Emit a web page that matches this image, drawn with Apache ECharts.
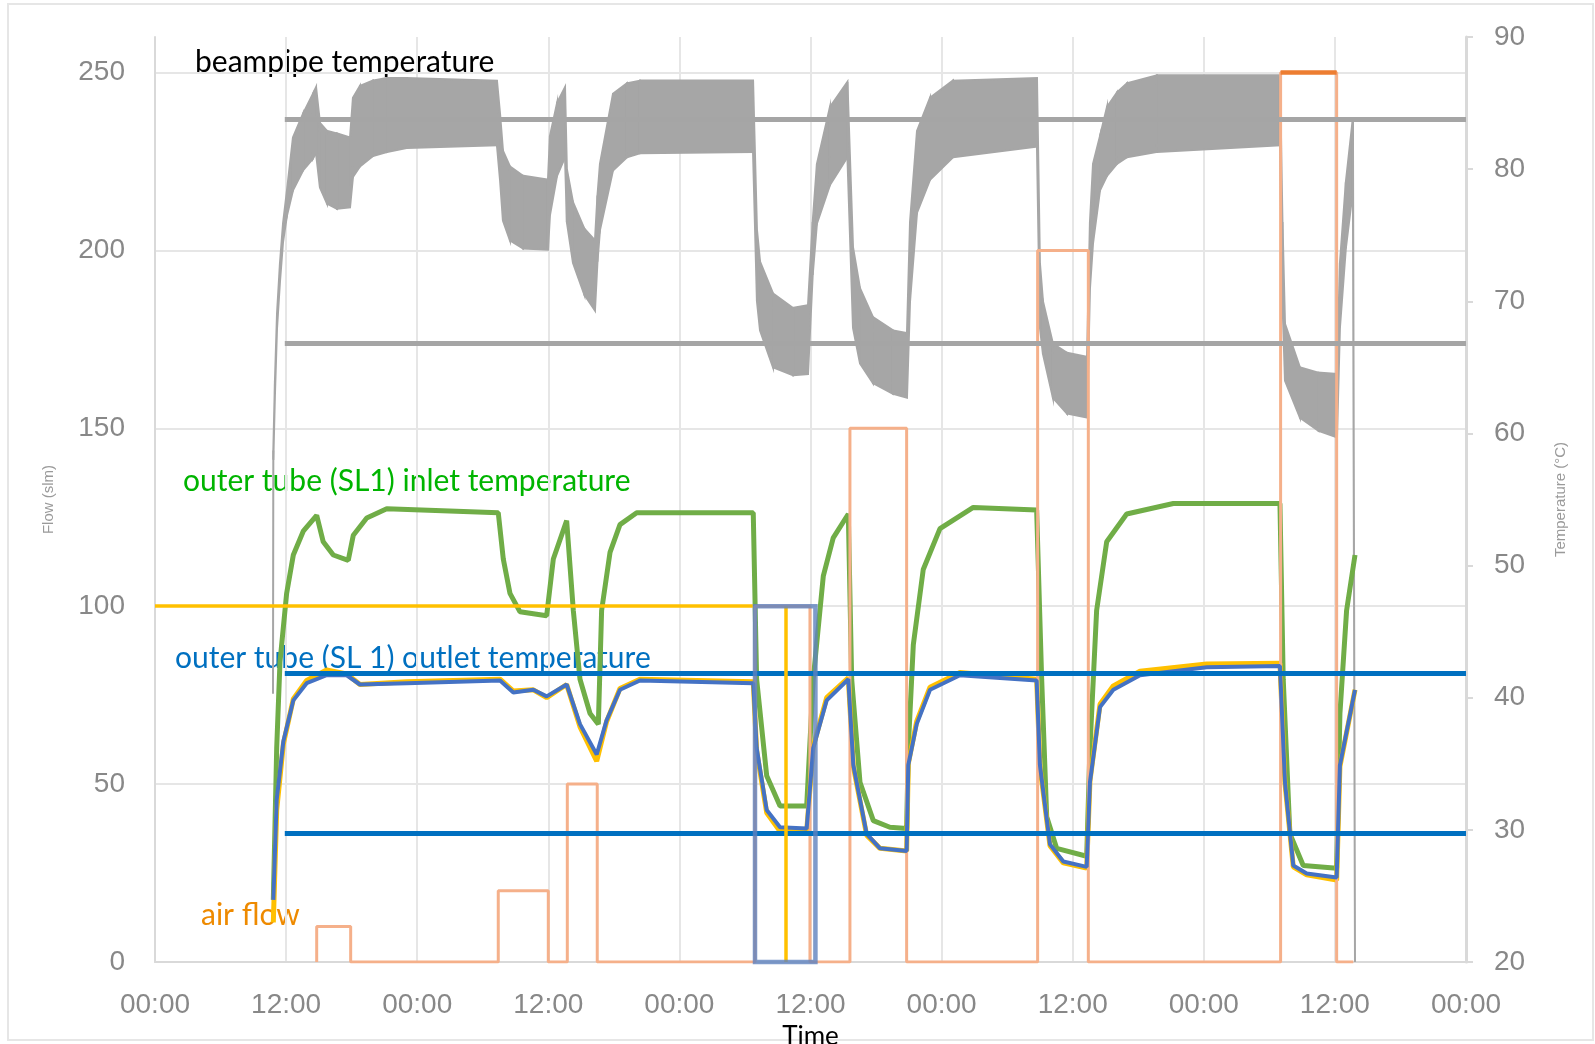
<!doctype html>
<html>

<head>
    <meta charset="utf-8">
    <title>beampipe / outer tube temperatures and air flow</title>
    <script type="text/javascript" src="https://cdn.jsdelivr.net/npm/echarts@6/dist/echarts.min.js"></script>
</head>

<body style="margin:0;padding:0;background:#fff;">
    <div id="tb"></div>
    <script>
        // time is in hours counted from the first 00:00 tick
        var timeTicks = ['00:00', '12:00'];

        // beampipe temperature (°C): upper and lower edge of the oscillating band
        var bpTime = [10.80, 10.83, 10.98, 11.17, 11.44, 11.72, 12.08, 12.63, 13.55, 14.46, 14.74, 15.10, 15.74, 16.66, 17.85,
            18.12, 18.76, 19.95, 21.24, 23.07, 31.30, 31.58, 31.85, 32.49, 33.68, 35.97, 36.15, 36.80, 37.53, 37.70, 38.26,
            39.30, 40.27, 40.50, 40.73, 41.92, 43.20, 44.39, 54.74, 55.10, 55.38, 56.57, 58.40, 59.77, 60.20, 60.59, 61.78,
            63.38, 63.89, 64.53, 65.72, 67.55, 68.83, 69.11, 69.75, 70.94, 73.04, 80.73, 81.00, 81.28, 82.19, 83.48, 85.31,
            85.58, 85.86, 86.50, 87.14, 88.05, 88.97, 91.71, 102.97, 103.20, 103.43, 104.80, 106.50, 108.19, 108.46, 109.00,
            109.65, 109.84];
        var bpUpper = [40.3, 58.7, 64.0, 69.1, 72.9, 75.9, 78.4, 82.4, 84.2, 85.7, 86.2, 83.5, 82.9, 82.7, 82.4,
            85.4, 86.3, 86.7, 86.9, 86.9, 86.7, 84.2, 81.4, 80.2, 79.5, 79.2, 82.5, 85.0, 86.2, 80.0, 77.5,
            75.5, 74.6, 78.0, 80.4, 85.7, 86.5, 86.7, 86.7, 75.4, 73.0, 70.6, 69.5, 69.7, 76.0, 80.4, 84.7,
            86.6, 74.1, 71.0, 68.8, 67.8, 67.6, 76.0, 82.9, 85.4, 86.7, 86.9, 72.9, 70.0, 66.8, 66.1, 65.8,
            76.0, 80.4, 82.5, 84.7, 85.8, 86.5, 87.1, 87.1, 76.0, 68.3, 65.0, 64.6, 64.5, 72.9, 79.0,
            83.9, 20.0];
        var bpLower = [40.3, 58.0, 63.0, 68.0, 71.5, 74.5, 76.5, 78.4, 79.9, 80.8, 81.2, 78.6, 77.4, 77.0, 77.1,
            79.4, 80.2, 81.0, 81.3, 81.6, 81.8, 79.2, 76.1, 74.6, 74.0, 73.9, 76.5, 79.5, 80.9, 76.0, 72.9,
            70.5, 69.3, 73.0, 75.4, 79.9, 80.9, 81.2, 81.3, 70.0, 67.8, 65.0, 64.4, 64.5, 72.0, 75.9, 78.8,
            80.9, 68.0, 65.3, 63.8, 63.0, 62.7, 70.0, 76.7, 79.2, 80.9, 81.7, 68.0, 66.0, 62.7, 61.5, 61.2,
            71.0, 74.4, 78.4, 79.5, 80.4, 80.9, 81.3, 81.8, 70.0, 64.0, 61.2, 60.2, 59.7, 68.0, 74.0,
            78.4, 20.0];

        // outer tube (SL1) inlet temperature (°C)
        var inletTime = [10.83, 11.14, 11.44, 12.05, 12.66, 13.57, 14.80, 15.40, 16.32, 17.69, 18.15, 19.38, 21.21, 31.42,
            31.88, 32.49, 33.41, 35.85, 36.46, 37.68, 38.29, 38.90, 39.82, 40.58, 40.88, 41.65, 42.56, 44.09, 54.76, 55.07,
            55.99, 57.21, 59.65, 60.25, 61.17, 62.08, 63.46, 63.77, 64.53, 65.75, 67.27, 68.80, 68.95, 69.41, 70.32, 71.85,
            74.90, 80.70, 81.16, 81.62, 82.53, 85.28, 85.58, 86.19, 87.11, 88.94, 93.21, 102.97, 103.27, 103.88, 105.10,
            108.16, 108.46, 109.07, 109.84];
        var inletTemp = [24.7, 36.2, 42.7, 47.9, 50.8, 52.6, 53.8, 51.8, 50.8, 50.4, 52.3, 53.6, 54.3, 54.0,
            50.5, 47.9, 46.5, 46.2, 50.5, 53.4, 46.6, 41.4, 38.8, 38.0, 46.6, 51.0, 53.1, 54.0, 54.0, 41.4,
            34.1, 31.8, 31.8, 41.4, 49.2, 52.1, 53.9, 41.4, 33.6, 30.7, 30.2, 30.1, 36.2, 44.0, 49.7, 52.8,
            54.4, 54.2, 41.4, 31.0, 28.6, 28.0, 36.2, 46.6, 51.8, 53.9, 54.7, 54.7, 41.4, 29.7, 27.3,
            27.1, 38.8, 46.6, 50.8];

        // outer tube (SL 1) outlet temperature (°C), blue, and the second outlet sensor, yellow
        var outletTime = [10.83, 11.14, 11.75, 12.66, 13.88, 15.71, 17.55, 18.76, 23.04, 31.58, 32.80, 34.63, 35.85, 37.68,
            38.90, 40.43, 41.34, 42.56, 44.39, 54.76, 55.07, 55.99, 57.21, 59.65, 60.25, 61.48, 63.46, 63.92, 65.14, 66.36,
            68.80, 68.95, 69.72, 70.94, 73.68, 80.70, 81.00, 81.92, 83.14, 85.28, 85.58, 86.50, 87.72, 90.16, 96.27, 102.97,
            103.43, 104.19, 105.42, 108.16, 108.46, 109.84];
        var outletTemp = [24.7, 32.3, 36.7, 39.8, 41.1, 41.7, 41.7, 41.0, 41.1, 41.3, 40.4, 40.6, 40.1, 41.0,
            38.0, 35.7, 38.3, 40.6, 41.3, 41.1, 36.2, 31.5, 30.2, 30.1, 36.2, 39.8, 41.4, 34.9, 29.7, 28.6,
            28.4, 34.9, 38.0, 40.6, 41.7, 41.3, 34.9, 28.9, 27.6, 27.2, 33.6, 39.3, 40.6, 41.7, 42.3, 42.4,
            33.6, 27.3, 26.7, 26.4, 34.9, 40.6];
        var outlet2Temp = [23.0, 31.5, 36.5, 39.9, 41.3, 42.1, 41.8, 41.0, 41.2, 41.4, 40.5, 40.6, 40.0, 41.0,
            37.8, 35.2, 38.2, 40.7, 41.4, 41.2, 36.0, 31.3, 29.9, 29.9, 36.3, 40.0, 41.5, 34.8, 29.6, 28.6,
            28.4, 35.0, 38.2, 40.8, 41.9, 41.4, 34.8, 28.8, 27.5, 27.1, 33.7, 39.5, 40.9, 42.0, 42.55, 42.6,
            33.5, 27.2, 26.6, 26.2, 34.8, 40.6];

        // air flow (slm), stepped
        var flowTime = [14.80, 14.80, 17.91, 17.91, 31.42, 31.42, 36.00, 36.00, 37.74, 37.74, 40.48, 40.48, 54.92, 54.92,
            59.95, 59.95, 63.61, 63.61, 68.80, 68.80, 80.79, 80.79, 85.43, 85.43, 103.03, 103.03, 108.16, 108.16, 109.68];
        var flowValue = [0, 10, 10, 0, 0, 20, 20, 0, 0, 50, 50, 0, 0, 100, 100, 0, 0, 150, 150, 0, 0, 200, 200, 0, 0,
            250, 250, 0, 0];

        // hand-drawn marker lines on top of the plot
        var guideStart = 11.88;
        var guideEnd = 120;
        var beampipeGuides = [83.8, 66.85];   // °C
        var outletGuides = [41.85, 29.75];    // °C
        var flowGuide = 100;                  // slm
        var boxTime = [54.92, 60.45];
        var boxFlow = [100, 0];
        var cursorTime = 57.76;
        var topStep = [103.03, 108.16, 250]; // highlighted top of the 250 slm step

        var pairs = function (xs, ys) {
            return xs.map(function (x, i) { return [x, ys[i]]; });
        };
        // one quad per step of the band: [t, lo, hi, tNext, loNext, hiNext]
        var bandSegments = [];
        for (var i = 0; i < bpTime.length - 1; i++) {
            bandSegments.push([bpTime[i], bpLower[i], bpUpper[i], bpTime[i + 1], bpLower[i + 1], bpUpper[i + 1]]);
        }
        var hLines = function (levels) {
            return levels.map(function (v) {
                return [{ coord: [guideStart, v] }, { coord: [guideEnd, v] }];
            });
        };

        var bt = document.getElementById('tb');
        var resizebt = function () {
            bt.style.width = window.innerWidth + 'px';
            bt.style.height = window.innerHeight + 'px';
        };
        resizebt();
        var btchart = echarts.init(bt);

        var labelFont = '"Liberation Sans", Arial, sans-serif';
        var noteFont = 'Lato, "Open Sans", sans-serif';
        var gridColor = '#e6e6e6';
        var bandColor = '#a6a6a6';

        btchart.setOption({
            animation: false,
            grid: { left: 155, right: 129, top: 37, bottom: 82, containLabel: false, outerBoundsMode: 'none' },
            xAxis: {
                type: 'value',
                min: 0,
                max: 120,
                interval: 12,
                name: 'Time',
                nameLocation: 'middle',
                nameGap: 55,
                nameTextStyle: { color: '#000', fontSize: 26, fontFamily: noteFont },
                axisLine: { lineStyle: { color: '#d9d9d9', width: 2 } },
                axisTick: { show: false },
                axisLabel: {
                    color: '#888', fontSize: 28, fontFamily: labelFont, margin: 29,
                    formatter: function (v) { return timeTicks[(v / 12) % 2]; }
                },
                splitLine: { show: true, lineStyle: { color: gridColor, width: 2 } }
            },
            yAxis: [{
                type: 'value',
                min: 0,
                max: 260,
                interval: 50,
                name: 'Flow (slm)',
                nameLocation: 'middle',
                nameGap: 99,
                nameTextStyle: { color: '#9a9a9a', fontSize: 15, fontFamily: labelFont },
                axisLine: { show: true, lineStyle: { color: '#d9d9d9', width: 2 } },
                axisTick: { show: false },
                axisLabel: { color: '#888', fontSize: 28, fontFamily: labelFont, margin: 30, showMaxLabel: false },
                splitLine: { show: true, showMaxLine: false, lineStyle: { color: gridColor, width: 2 } }
            }, {
                type: 'value',
                min: 20,
                max: 90,
                interval: 10,
                name: 'Temperature (°C)',
                nameLocation: 'middle',
                nameGap: 87,
                nameRotate: 90,
                nameTextStyle: { color: '#9a9a9a', fontSize: 15, fontFamily: labelFont },
                axisLine: { show: true, lineStyle: { color: '#d9d9d9', width: 3 } },
                axisTick: { show: true, length: 7, lineStyle: { color: '#d9d9d9', width: 2 } },
                axisLabel: { color: '#888', fontSize: 28, fontFamily: labelFont, margin: 28 },
                splitLine: { show: false }
            }],
            series: [{
                name: 'beampipe temperature',
                type: 'custom',
                yAxisIndex: 1,
                z: 2,
                silent: true,
                encode: { x: [0, 3], y: [1, 2, 4, 5] },
                renderItem: function (params, api) {
                    var a = api.coord([api.value(0), api.value(1)]);
                    var b = api.coord([api.value(3), api.value(4)]);
                    var c = api.coord([api.value(3), api.value(5)]);
                    var d = api.coord([api.value(0), api.value(2)]);
                    return {
                        type: 'polygon',
                        shape: { points: [a, b, c, d] },
                        style: { fill: bandColor, stroke: bandColor, lineWidth: 2 }
                    };
                },
                data: bandSegments
            }, {
                name: 'outer tube (SL1) inlet temperature',
                type: 'line',
                yAxisIndex: 1,
                symbol: 'none',
                z: 3,
                lineStyle: { color: '#70ad47', width: 5 },
                data: pairs(inletTime, inletTemp),
                markLine: {
                    silent: true,
                    symbol: ['none', 'none'],
                    label: { show: false },
                    lineStyle: { type: 'solid', color: '#a5a5a5', width: 5 },
                    data: hLines(beampipeGuides)
                }
            }, {
                name: 'outlet sensor 2',
                type: 'line',
                yAxisIndex: 1,
                symbol: 'none',
                z: 3,
                lineStyle: { color: '#ffc000', width: 5 },
                data: pairs(outletTime, outlet2Temp)
            }, {
                name: 'outer tube (SL 1) outlet temperature',
                type: 'line',
                yAxisIndex: 1,
                symbol: 'none',
                z: 4,
                lineStyle: { color: '#4472c4', width: 4 },
                data: pairs(outletTime, outletTemp),
                markLine: {
                    silent: true,
                    symbol: ['none', 'none'],
                    label: { show: false },
                    lineStyle: { type: 'solid', color: '#0070c0', width: 5 },
                    data: hLines(outletGuides)
                }
            }, {
                name: 'air flow',
                type: 'line',
                yAxisIndex: 0,
                symbol: 'none',
                z: 3,
                lineStyle: { color: '#f5b08a', width: 3 },
                data: pairs(flowTime, flowValue),
                markLine: {
                    silent: true,
                    symbol: ['none', 'none'],
                    label: { show: false },
                    lineStyle: { type: 'solid', color: '#ffc000', width: 3.5 },
                    data: [
                        [{ coord: [0, flowGuide] }, { coord: [boxTime[0] - 0.2, flowGuide] }],
                        [{ coord: [cursorTime, flowGuide] }, { coord: [cursorTime, 0] }],
                        [{ coord: [topStep[0], topStep[2]], lineStyle: { color: '#ed7d31', width: 4.5 } },
                            { coord: [topStep[1], topStep[2]] }]
                    ]
                },
                markArea: {
                    silent: true,
                    z: 6,
                    itemStyle: { color: 'rgba(0,0,0,0)', borderColor: 'rgba(95,130,190,0.8)', borderWidth: 4.5 },
                    data: [[{ coord: [boxTime[0], boxFlow[0]] }, { coord: [boxTime[1], boxFlow[1]] }]]
                }
            }],
            graphic: [
                { type: 'rect', shape: { x: 8, y: 4, width: 1585, height: 1036 }, style: { fill: 'none', stroke: '#e6e6e6', lineWidth: 2 }, z: 0, silent: true },
                { type: 'text', left: 195, top: 47, style: { text: 'beampipe temperature', font: '30px ' + noteFont, fill: '#000' } },
                { type: 'text', left: 183, top: 466, style: { text: 'outer tube (SL1) inlet temperature', font: '30px ' + noteFont, fill: '#00b400' } },
                { type: 'text', left: 175, top: 643, style: { text: 'outer tube (SL 1) outlet temperature', font: '30px ' + noteFont, fill: '#0070c0' } },
                { type: 'text', left: 201, top: 900, style: { text: 'air flow', font: '30px ' + noteFont, fill: '#ee8a00' } }
            ]
        });

        window.onresize = function () {
            resizebt();
            btchart.resize();
        };
    </script>
</body>

</html>
